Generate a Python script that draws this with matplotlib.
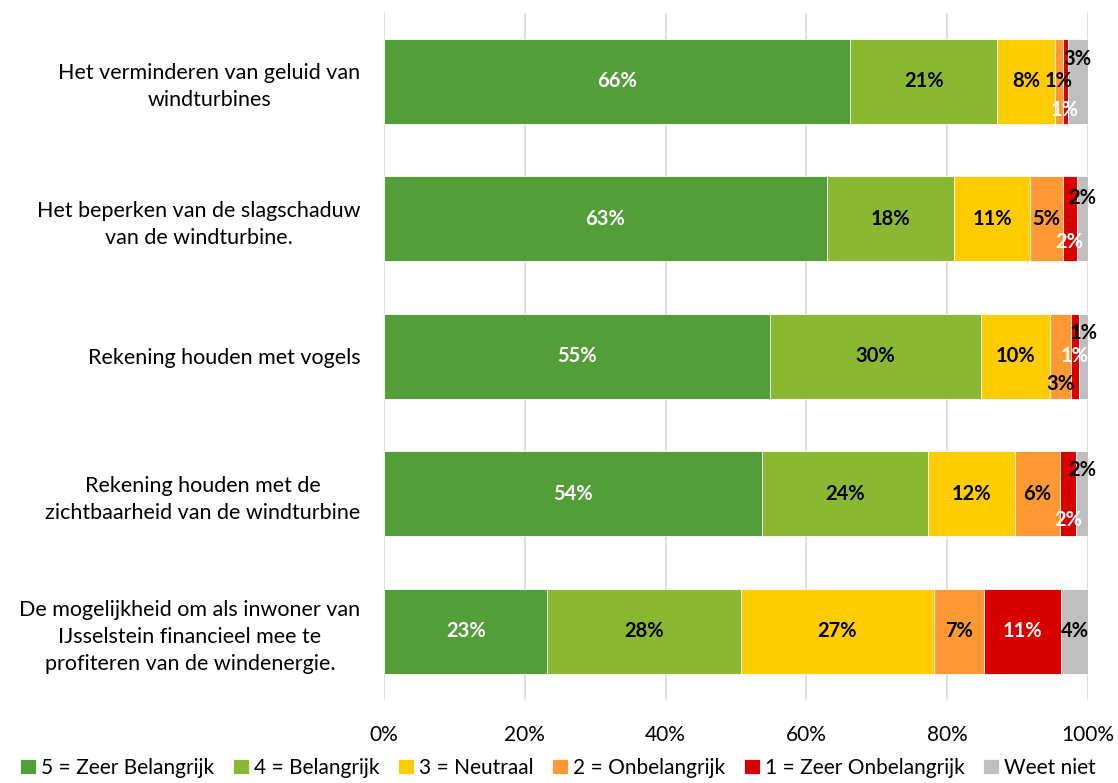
import matplotlib.pyplot as plt
import numpy as np

plt.rcParams['font.family'] = ['Lato', 'DejaVu Sans']

# categories, top to bottom
categories = [
    'Het verminderen van geluid van\nwindturbines',
    'Het beperken van de slagschaduw\nvan de windturbine.',
    'Rekening houden met vogels',
    'Rekening houden met de\nzichtbaarheid van de windturbine',
    'De mogelijkheid om als inwoner van\nIJsselstein financieel mee te\nprofiteren van de windenergie.',
]
series = ['5 = Zeer Belangrijk', '4 = Belangrijk', '3 = Neutraal',
          '2 = Onbelangrijk', '1 = Zeer Onbelangrijk', 'Weet niet']

# shares per category (percent)
zeer_belangrijk = [66.2, 62.9, 54.8, 53.7, 23.2]
belangrijk      = [20.9, 18.1, 30.0, 23.6, 27.5]
neutraal        = [8.2, 10.8, 9.8, 12.3, 27.4]
onbelangrijk    = [1.1, 4.6, 3.0, 6.4, 7.1]
zeer_onbelangr  = [0.7, 2.0, 1.1, 2.3, 11.0]
weet_niet       = [2.9, 1.6, 1.3, 1.7, 3.8]

# printed labels
label_vals = [
    [66, 21, 8, 1, 1, 3],
    [63, 18, 11, 5, 2, 2],
    [55, 30, 10, 3, 1, 1],
    [54, 24, 12, 6, 2, 2],
    [23, 28, 27, 7, 11, 4],
]

colors = ['#549E39', '#8AB833', '#FFCC00', '#FF9933', '#D90000', '#BFBFBF']
text_colors = ['white', 'black', 'black', 'black', 'white', 'black']

# vertical nudges of crowded labels (fraction of bar slot, + = down)
nudges = {
    (0, 4): 0.21, (0, 5): -0.16,
    (1, 4): 0.17, (1, 5): -0.15,
    (2, 3): 0.20, (2, 5): -0.17,
    (3, 4): 0.19, (3, 5): -0.17,
}

data = np.array([zeer_belangrijk, belangrijk, neutraal, onbelangrijk,
                 zeer_onbelangr, weet_niet]).T
data = data / data.sum(axis=1, keepdims=True) * 100

fig = plt.figure(figsize=(11.18, 7.83), dpi=100)
ax = fig.add_axes([0.3435, 0.106, 0.6297, 0.878])

y = np.arange(len(categories))
left = np.zeros(len(categories))
for j, name in enumerate(series):
    ax.barh(y, data[:, j], left=left, height=0.62, color=colors[j],
            edgecolor='white', linewidth=0.6, label=name, zorder=2)
    for i in range(len(categories)):
        cx = left[i] + data[i, j] / 2
        cy = y[i] + nudges.get((i, j), 0)
        ax.text(cx, cy, f'{label_vals[i][j]}%', ha='center', va='center',
                color=text_colors[j], fontsize=14.5, fontweight='bold', zorder=3)
    left += data[:, j]

ax.set_xlim(0, 100)
ax.set_ylim(len(categories) - 0.5, -0.5)
ax.set_xticks(np.arange(0, 101, 20))
ax.set_xticklabels([f'{t}%' for t in range(0, 101, 20)], fontsize=15)
ax.set_yticks(y)
ax.set_yticklabels(categories, fontsize=15.5, ha='right',
                   multialignment='center', linespacing=1.45)
ax.tick_params(axis='y', length=0, pad=17)
ax.tick_params(axis='x', length=0, pad=18)
ax.grid(axis='x', color='#D9D9D9', linewidth=1.2, zorder=0)
ax.set_axisbelow(True)
for s in ax.spines.values():
    s.set_visible(False)

fig.legend(*ax.get_legend_handles_labels(), loc='center',
           bbox_to_anchor=(558 / 1118, 1 - 768 / 783), ncol=6,
           frameon=False, fontsize=15, handlelength=0.75, handleheight=0.75,
           handletextpad=0.25, columnspacing=0.9, borderaxespad=0)

fig.savefig('out.png', dpi=100)
